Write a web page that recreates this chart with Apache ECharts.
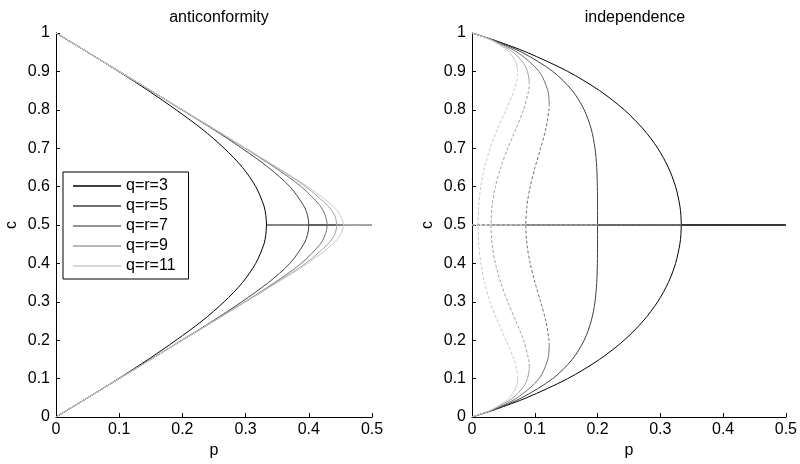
<!DOCTYPE html>
<html>
<head>
<meta charset="utf-8">
<script src="https://cdn.jsdelivr.net/npm/echarts@6/dist/echarts.min.js"></script>
<style>
  html, body { margin: 0; padding: 0; background: #fff; }
  #chart { width: 800px; height: 464px; }
</style>
</head>
<body>
<div id="chart"></div>
<script>
// legend names and grey levels, q = r = 3, 5, 7, 9, 11
const names = ['q=r=3', 'q=r=5', 'q=r=7', 'q=r=9', 'q=r=11'];
const colors = ['#000000', '#404040', '#707070', '#a0a0a0', '#c8c8c8'];

const pTicks = [0, 0.1, 0.2, 0.3, 0.4, 0.5];
const cTicks = [0, 0.1, 0.2, 0.3, 0.4, 0.5, 0.6, 0.7, 0.8, 0.9, 1];

// ---- anticonformity (left panel) ----
const cAnti = [0, 0.05, 0.1, 0.15, 0.2, 0.25, 0.3, 0.35, 0.4, 0.45, 0.475, 0.5,
               0.525, 0.55, 0.6, 0.65, 0.7, 0.75, 0.8, 0.85, 0.9, 0.95, 1];
const pAnti3  = [0, 0.050, 0.099, 0.146, 0.190, 0.231, 0.266, 0.295, 0.316, 0.329, 0.332, 0.333,
                 0.332, 0.329, 0.316, 0.295, 0.266, 0.231, 0.190, 0.146, 0.099, 0.050, 0];
const pAnti5  = [0, 0.050, 0.100, 0.150, 0.199, 0.248, 0.294, 0.336, 0.370, 0.392, 0.398, 0.400,
                 0.398, 0.392, 0.370, 0.336, 0.294, 0.248, 0.199, 0.150, 0.100, 0.050, 0];
const pAnti7  = [0, 0.050, 0.100, 0.150, 0.200, 0.250, 0.299, 0.346, 0.388, 0.418, 0.426, 0.429,
                 0.426, 0.418, 0.388, 0.346, 0.299, 0.250, 0.200, 0.150, 0.100, 0.050, 0];
const pAnti9  = [0, 0.050, 0.100, 0.150, 0.200, 0.250, 0.300, 0.349, 0.395, 0.430, 0.441, 0.444,
                 0.441, 0.430, 0.395, 0.349, 0.300, 0.250, 0.200, 0.150, 0.100, 0.050, 0];
const pAnti11 = [0, 0.050, 0.100, 0.150, 0.200, 0.250, 0.300, 0.350, 0.398, 0.438, 0.450, 0.455,
                 0.450, 0.438, 0.398, 0.350, 0.300, 0.250, 0.200, 0.150, 0.100, 0.050, 0];
const pCritAnti = [0.333, 0.400, 0.429, 0.444, 0.455];

// ---- independence (right panel) ----
const cInd = [0, 0.02, 0.05, 0.1, 0.15, 0.2, 0.25, 0.3, 0.35, 0.4, 0.45, 0.475, 0.5,
              0.525, 0.55, 0.6, 0.65, 0.7, 0.75, 0.8, 0.85, 0.9, 0.95, 0.98, 1];
const pInd3 = [0, 0.0377, 0.0868, 0.1525, 0.2032, 0.2424, 0.2727, 0.2958, 0.3127, 0.3243, 0.3311, 0.3328, 0.3333,
               0.3328, 0.3311, 0.3243, 0.3127, 0.2958, 0.2727, 0.2424, 0.2032, 0.1525, 0.0868, 0.0377, 0];
const pInd5 = [0, 0.0363, 0.0792, 0.1286, 0.1597, 0.1787, 0.1899, 0.1959, 0.1987, 0.1997, 0.2000, 0.2000, 0.2000,
               0.2000, 0.2000, 0.1997, 0.1987, 0.1959, 0.1899, 0.1787, 0.1597, 0.1286, 0.0792, 0.0363, 0];

// q=r=7: stable outer branches, unstable (dashed) middle
const cInd7Low  = [0, 0.01, 0.02, 0.05, 0.1, 0.15, 0.185];
const pInd7Low  = [0, 0.0187, 0.0349, 0.0720, 0.1068, 0.1208, 0.1230];
const cInd7Mid  = [0.185, 0.2, 0.25, 0.3, 0.35, 0.4, 0.45, 0.5, 0.55, 0.6, 0.65, 0.7, 0.75, 0.8, 0.815];
const pInd7Mid  = [0.1230, 0.1226, 0.1176, 0.1093, 0.1004, 0.0927, 0.0875, 0.0857,
                   0.0875, 0.0927, 0.1004, 0.1093, 0.1176, 0.1226, 0.1230];
const cInd7High = [0.815, 0.85, 0.9, 0.95, 0.98, 0.99, 1];
const pInd7High = [0.1230, 0.1208, 0.1068, 0.0720, 0.0349, 0.0187, 0];

// q=r=9
const cInd9Low  = [0, 0.01, 0.02, 0.05, 0.08, 0.1, 0.12, 0.13];
const pInd9Low  = [0, 0.0183, 0.0336, 0.0654, 0.0825, 0.0883, 0.0909, 0.0912];
const cInd9Mid  = [0.13, 0.14, 0.15, 0.2, 0.25, 0.3, 0.35, 0.4, 0.45, 0.5,
                   0.55, 0.6, 0.65, 0.7, 0.75, 0.8, 0.85, 0.86, 0.87];
const pInd9Mid  = [0.0912, 0.0910, 0.0903, 0.0821, 0.0698, 0.0570, 0.0458, 0.0373, 0.0321, 0.0303,
                   0.0321, 0.0373, 0.0458, 0.0570, 0.0698, 0.0821, 0.0903, 0.0910, 0.0912];
const cInd9High = [0.87, 0.88, 0.9, 0.92, 0.95, 0.98, 0.99, 1];
const pInd9High = [0.0912, 0.0909, 0.0883, 0.0825, 0.0654, 0.0336, 0.0183, 0];

// q=r=11
const cInd11Low  = [0, 0.01, 0.02, 0.04, 0.05, 0.07, 0.08, 0.09, 0.1];
const pInd11Low  = [0, 0.0179, 0.0323, 0.0526, 0.0594, 0.0683, 0.0707, 0.0722, 0.0727];
const cInd11Mid  = [0.1, 0.11, 0.12, 0.15, 0.2, 0.25, 0.3, 0.35, 0.4, 0.45, 0.5,
                    0.55, 0.6, 0.65, 0.7, 0.75, 0.8, 0.85, 0.88, 0.89, 0.9];
const pInd11Mid  = [0.0727, 0.0726, 0.0718, 0.0669, 0.0542, 0.0405, 0.0288, 0.0200, 0.0141, 0.0107, 0.0097,
                    0.0107, 0.0141, 0.0200, 0.0288, 0.0405, 0.0542, 0.0669, 0.0718, 0.0726, 0.0727];
const cInd11High = [0.9, 0.91, 0.92, 0.93, 0.95, 0.96, 0.98, 0.99, 1];
const pInd11High = [0.0727, 0.0722, 0.0707, 0.0683, 0.0594, 0.0526, 0.0323, 0.0179, 0];

const pCritInd = [0.3333, 0.2000, 0.0857, 0.0303, 0.0097];
const cHalf = 0.5;
const pEnd = 0.5;

function zip(ps, cs) {
    return ps.map((p, i) => [p, cs[i]]);
}

const chartDom = document.getElementById('chart');
let myChart = echarts.init(chartDom);
let option;

const font = 'Liberation Sans, Arial, Helvetica, sans-serif';

function xAxisOf(index) {
    return {
        type: 'value',
        gridIndex: index,
        min: 0,
        max: 0.5,
        interval: 0.1,
        name: 'p',
        nameLocation: 'middle',
        nameGap: 19,
        nameTextStyle: { color: '#000', fontSize: 16, fontFamily: font },
        axisLine: { onZero: false, lineStyle: { color: '#000', width: 1 } },
        axisTick: { inside: true, length: 4, lineStyle: { color: '#000' } },
        axisLabel: {
            color: '#000', fontSize: 16, fontFamily: font, margin: 5,
            formatter: v => pTicks.indexOf(+v.toFixed(1)) >= 0 ? String(+v.toFixed(1)) : ''
        },
        splitLine: { show: false }
    };
}

function yAxisOf(index) {
    return {
        type: 'value',
        gridIndex: index,
        min: 0,
        max: 1,
        interval: 0.1,
        name: 'c',
        nameLocation: 'middle',
        nameGap: 36,
        nameRotate: 90,
        nameTextStyle: { color: '#000', fontSize: 16, fontFamily: font },
        axisLine: { onZero: false, lineStyle: { color: '#000', width: 1 } },
        axisTick: { inside: true, length: 4, lineStyle: { color: '#000' } },
        axisLabel: {
            color: '#000', fontSize: 16, fontFamily: font, margin: 6,
            formatter: v => cTicks.indexOf(+v.toFixed(1)) >= 0 ? String(+v.toFixed(1)) : ''
        },
        splitLine: { show: false }
    };
}

function line(name, k, data, axis, dashed, z) {
    return {
        name: name,
        type: 'line',
        xAxisIndex: axis,
        yAxisIndex: axis,
        data: data,
        smooth: 0.3,
        symbol: 'none',
        silent: true,
        lineStyle: { color: colors[k], width: 1, type: dashed ? [3, 2] : 'solid' },
        itemStyle: { color: colors[k] },
        z: z === undefined ? 2 + k : z
    };
}

let series = [];
const pAnti = [pAnti3, pAnti5, pAnti7, pAnti9, pAnti11];
for (let k = 0; k < names.length; k++) {
    series.push(line(names[k], k, zip(pAnti[k], cAnti), 0, false));
    series.push(line(names[k], k, [[pCritAnti[k], cHalf], [pEnd, cHalf]], 0, false));
}

// independence: q=3 and q=5 are fully stable
series.push(line(names[0], 0, zip(pInd3, cInd), 1, false));
series.push(line(names[1], 1, zip(pInd5, cInd), 1, false));
const lowP = [pInd7Low, pInd9Low, pInd11Low], lowC = [cInd7Low, cInd9Low, cInd11Low];
const midP = [pInd7Mid, pInd9Mid, pInd11Mid], midC = [cInd7Mid, cInd9Mid, cInd11Mid];
const highP = [pInd7High, pInd9High, pInd11High], highC = [cInd7High, cInd9High, cInd11High];
for (let j = 0; j < 3; j++) {
    const k = j + 2;
    series.push(line(names[k], k, zip(lowP[j], lowC[j]), 1, false));
    series.push(line(names[k], k, zip(midP[j], midC[j]), 1, true));
    series.push(line(names[k], k, zip(highP[j], highC[j]), 1, false));
}
// c = 1/2 branch: unstable (dashed) below p*, stable above; darker stable parts on top
for (let k = 0; k < names.length; k++) {
    series.push(line(names[k], k, [[0, cHalf], [pCritInd[k], cHalf]], 1, true));
    series.push(line(names[k], k, [[pCritInd[k], cHalf], [pEnd, cHalf]], 1, false, 20 - k));
}

option = {
    animation: false,
    backgroundColor: '#fff',
    title: [
        { text: 'anticonformity', left: 214, top: 5, textAlign: 'center',
          textStyle: { color: '#000', fontSize: 16, fontWeight: 'normal', fontFamily: font } },
        { text: 'independence', left: 630, top: 5, textAlign: 'center',
          textStyle: { color: '#000', fontSize: 16, fontWeight: 'normal', fontFamily: font } }
    ],
    legend: {
        data: names,
        orient: 'vertical',
        left: 63,
        top: 172,
        padding: [6, 13, 5, 10],
        icon: 'rect',
        itemWidth: 48,
        itemHeight: 1.5,
        itemGap: 4,
        borderColor: '#000',
        borderWidth: 1,
        borderRadius: 0,
        backgroundColor: '#fff',
        selectedMode: false,
        textStyle: { color: '#000', fontSize: 16, fontFamily: font }
    },
    grid: [
        { left: 56, top: 33, width: 316, height: 384 },
        { left: 472, top: 33, width: 317, height: 384 }
    ],
    xAxis: [xAxisOf(0), xAxisOf(1)],
    yAxis: [yAxisOf(0), yAxisOf(1)],
    series: series
};

option && myChart.setOption(option);
</script>
</body>
</html>
